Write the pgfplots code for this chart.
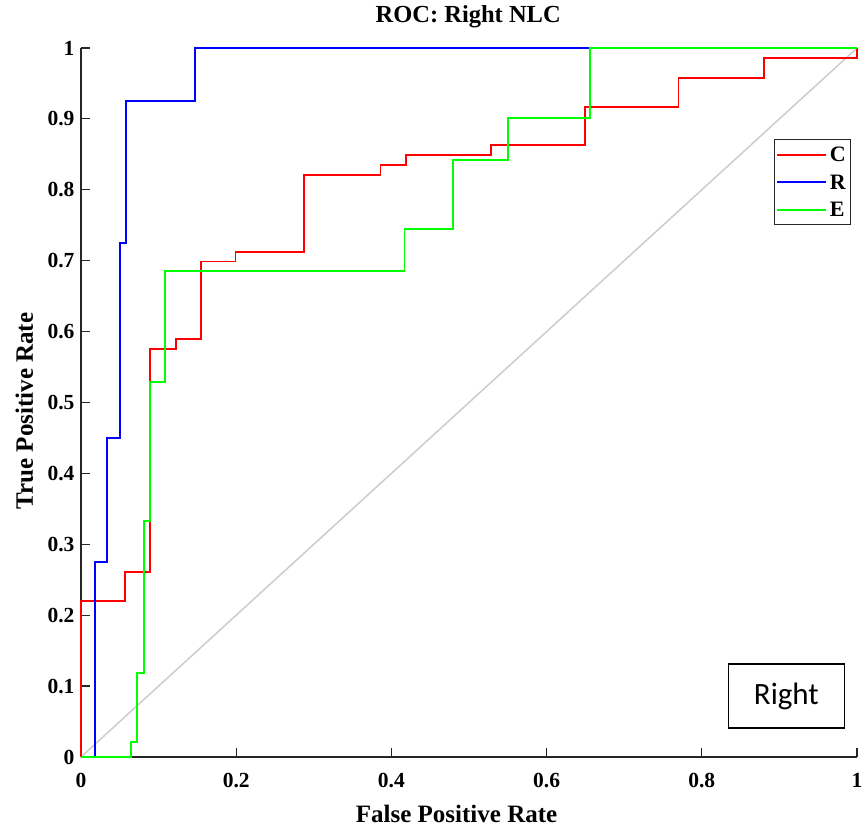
\documentclass[border=0pt]{standalone}
\usepackage{pgfplots}
\pgfplotsset{compat=1.18}
\usepackage{fontspec}
\setmainfont{Liberation Serif}
\newfontfamily\carlito{Carlito}
\begin{document}
\begin{tikzpicture}
\begin{axis}[
  scale only axis,
  width=776pt, height=709pt,
  xmin=0, xmax=1, ymin=0, ymax=1,
  clip=false,
  axis x line*=bottom, axis y line*=left,
  axis line style={black!85, line width=1.2pt},
  tick align=inside,
  major tick length=9pt,
  tick style={black!85, line width=1.2pt},
  xtick={0,0.2,0.4,0.6,0.8,1},
  ytick={0,0.1,0.2,0.3,0.4,0.5,0.6,0.7,0.8,0.9,1},
  /pgf/number format/assume math mode=true,
  /pgf/number format/fixed,
  /pgf/number format/precision=1,
  ticklabel style={font=\fontsize{21.5}{24}\selectfont\bfseries},
  xticklabel style={anchor=base, yshift=-30pt},
  yticklabel style={anchor=east, xshift=-3pt},
  title={ROC: Right NLC},
  title style={at={(axis description cs:0.499,1.0268)}, anchor=base, font=\fontsize{24.5}{28}\selectfont\bfseries},
  xlabel={False Positive Rate},
  xlabel style={at={(axis description cs:0.484,-0.0917)}, anchor=base, font=\fontsize{25}{28}\selectfont\bfseries},
  ylabel={True Positive Rate},
  ylabel style={at={(axis description cs:-0.0619,0.488)}, anchor=base, rotate=0, font=\fontsize{25}{28}\selectfont\bfseries},
  legend cell align=left,
  legend image code/.code={\draw[#1, line width=1.8pt] (0pt,0pt) -- (49pt,0pt);},
  legend style={at={(axis description cs:0.992,0.872)}, anchor=north east,
    draw=black!85, line width=1.2pt, fill=white,
    font=\fontsize{22}{24}\selectfont\bfseries,
    inner xsep=2pt, inner ysep=1.5pt,
    nodes={text height=14.5pt, text depth=0pt, inner ysep=6.5pt, inner xsep=2.5pt},
    /tikz/every even column/.append style={column sep=0pt}},
]
\addplot[color={rgb,1:red,0.8;green,0.8;blue,0.8}, line width=1.5pt, forget plot] coordinates {(0,0) (1,1)};
\addplot[color=red, line width=1.8pt] coordinates {
(0,0) (0,0.220) (0.057,0.220) (0.057,0.261) (0.089,0.261) (0.089,0.575)
(0.122,0.575) (0.122,0.589) (0.155,0.589) (0.155,0.699) (0.199,0.699)
(0.199,0.712) (0.287,0.712) (0.287,0.821) (0.386,0.821) (0.386,0.835)
(0.419,0.835) (0.419,0.849) (0.528,0.849) (0.528,0.863) (0.649,0.863)
(0.649,0.917) (0.770,0.917) (0.770,0.958) (0.880,0.958) (0.880,0.986)
(1,0.986) (1,1)};
\addlegendentry{C}
\addplot[color=blue, line width=1.8pt] coordinates {
(0,0) (0.018,0) (0.018,0.275) (0.034,0.275) (0.034,0.450) (0.050,0.450)
(0.050,0.725) (0.058,0.725) (0.058,0.925) (0.147,0.925) (0.147,1) (1,1)};
\addlegendentry{R}
\addplot[color=green, line width=1.8pt] coordinates {
(0,0) (0.064,0) (0.064,0.021) (0.0725,0.021) (0.0725,0.118) (0.081,0.118)
(0.081,0.333) (0.089,0.333) (0.089,0.529) (0.108,0.529) (0.108,0.685)
(0.417,0.685) (0.417,0.745) (0.479,0.745) (0.479,0.842) (0.550,0.842)
(0.550,0.901) (0.656,0.901) (0.656,1) (1,1)};
\addlegendentry{E}
\node[draw=black, line width=1.1pt, fill=white, minimum width=116.6pt, minimum height=64pt, font=\carlito\fontsize{31}{34}\selectfont] at (axis cs:0.909,0.086) {Right};
\coordinate (bl) at (rel axis cs:0,0);
\coordinate (tr) at (rel axis cs:1,1);
\end{axis}
\pgfresetboundingbox
\path[use as bounding box] ([xshift=-81pt,yshift=-73pt]bl) rectangle ([xshift=8pt,yshift=48pt]tr);
\end{tikzpicture}
\end{document}
